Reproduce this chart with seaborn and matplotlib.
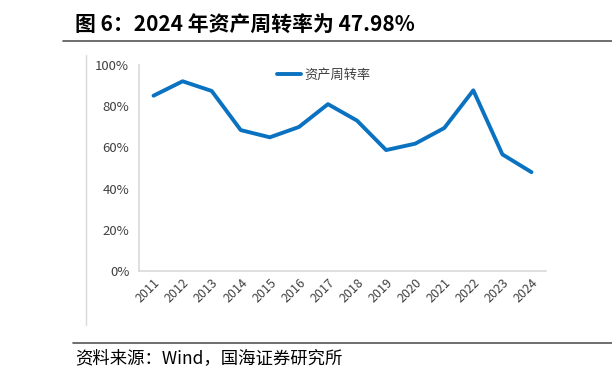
import numpy as np
import pandas as pd
import matplotlib
matplotlib.use('Agg')
import matplotlib.pyplot as plt
import seaborn as sns

years = ['2011', '2012', '2013', '2014', '2015', '2016', '2017',
         '2018', '2019', '2020', '2021', '2022', '2023', '2024']
turnover = [85.1, 92.1, 87.4, 68.4, 64.9, 69.9, 81.0,
            73.0, 58.7, 61.8, 69.4, 87.7, 56.6, 47.98]
y_ticks = [0, 20, 40, 60, 80, 100]

sns.set_style('white')
plt.rcParams['font.family'] = ['Noto Sans CJK SC', 'DejaVu Sans']

df = pd.DataFrame({'idx': np.arange(len(years)), 'val': turnover})

fig = plt.figure(figsize=(6.12, 3.79), dpi=100)
ax = fig.add_axes([139 / 612, 1 - 271 / 379, 407 / 612, 206 / 379])

sns.lineplot(data=df, x='idx', y='val', ax=ax, color='#0a72c0', linewidth=2.8,
             label='资产周转率', legend=False)

ax.set_xlim(-0.5, len(years) - 0.5)
ax.set_ylim(0, 100)
ax.set_xlabel('')
ax.set_ylabel('')

grey = '#d9d9d9'
for s in ['top', 'right']:
    ax.spines[s].set_visible(False)
for s in ['left', 'bottom']:
    ax.spines[s].set_color(grey)
    ax.spines[s].set_linewidth(1.2)

ax.set_yticks(y_ticks)
ax.set_yticklabels([f'{v}%' for v in y_ticks], fontsize=9.5, color='#404040')
ax.tick_params(axis='y', length=4, color=grey, width=1.2, pad=3)

# ticks sit on category boundaries, labels on category centres
ax.set_xticks(np.arange(len(years) + 1) - 0.5)
ax.set_xticklabels([])
ax.tick_params(axis='x', which='major', length=4, color=grey, width=1.2)
ax.set_xticks(np.arange(len(years)), minor=True)
ax.set_xticklabels(years, minor=True, rotation=45, fontsize=9, color='#404040',
                   ha='right', rotation_mode='anchor')
ax.tick_params(axis='x', which='minor', length=0, pad=4)

leg = ax.legend(loc='upper left', bbox_to_anchor=(0.31, 1.04), frameon=False,
                fontsize=9.5, handlelength=1.8, handletextpad=0.3)
for t in leg.get_texts():
    t.set_color('#404040')

# title, rules and source note
fig.text(75 / 612, 1 - 24 / 379, '图 6：2024 年资产周转率为 47.98%', fontsize=15,
         fontweight='bold', va='center', ha='left', color='black')
fig.add_artist(plt.Line2D([63 / 612, 1], [1 - 41 / 379] * 2, color='#555555', lw=1.2))
fig.add_artist(plt.Line2D([86 / 612, 86 / 612], [1 - 325 / 379, 1 - 55 / 379], color=grey, lw=1.0))
fig.add_artist(plt.Line2D([73 / 612, 1], [1 - 343 / 379] * 2, color='#555555', lw=1.2))
fig.text(75 / 612, 1 - 358 / 379, '资料来源：Wind，国海证券研究所', fontsize=12.5,
         va='center', ha='left', color='black')

fig.savefig('out.png', dpi=100)
plt.close(fig)
